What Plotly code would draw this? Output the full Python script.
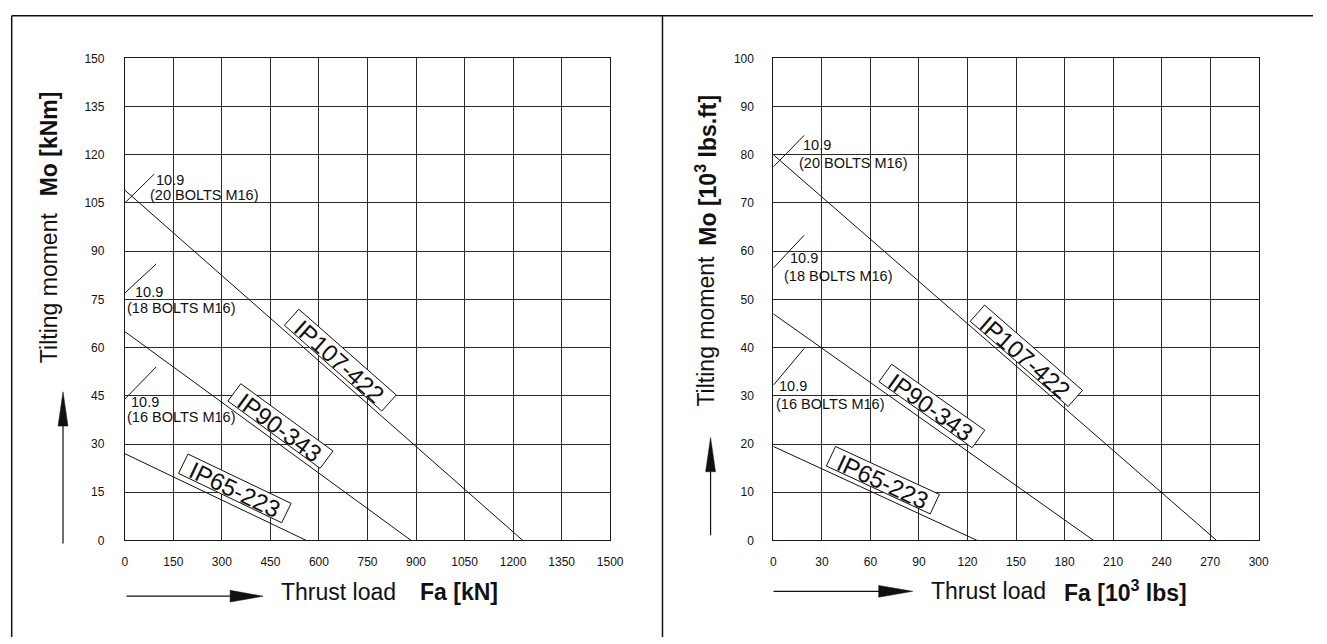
import math
import plotly.graph_objects as go

# The page body has an 8px margin; the figure starts 8px in and runs to the window edge
W, H = 1327, 644
OFF = 8
FW, FH = W - OFF, H - OFF

# ---------------- data ----------------
# metric chart: Fa [kN] vs Mo [kNm]
m_x_ticks = [0, 150, 300, 450, 600, 750, 900, 1050, 1200, 1350, 1500]
m_y_ticks = [0, 15, 30, 45, 60, 75, 90, 105, 120, 135, 150]
m_ip107_fa = [0, 1230]
m_ip107_mo = [109, 0]
m_ip90_fa = [0, 885]
m_ip90_mo = [65, 0]
m_ip65_fa = [0, 561]
m_ip65_mo = [27, 0]
m_b20_fa = [0, 91]
m_b20_mo = [105, 114]
m_b18_fa = [0, 97]
m_b18_mo = [77, 86]
m_b16_fa = [0, 97]
m_b16_mo = [44, 54]

# imperial chart: Fa [10^3 lbs] vs Mo [10^3 lbs.ft]
i_x_ticks = [0, 30, 60, 90, 120, 150, 180, 210, 240, 270, 300]
i_y_ticks = [0, 10, 20, 30, 40, 50, 60, 70, 80, 90, 100]
i_ip107_fa = [0, 274]
i_ip107_mo = [80, 0]
i_ip90_fa = [0, 198]
i_ip90_mo = [47, 0]
i_ip65_fa = [0, 126]
i_ip65_mo = [19.5, 0]
i_b20_fa = [0, 19]
i_b20_mo = [77.5, 84]
i_b18_fa = [0, 19]
i_b18_mo = [56.5, 63.3]
i_b16_fa = [0, 19]
i_b16_mo = [32.2, 39.8]

model_names = ["IP107-422", "IP90-343", "IP65-223"]
bolt_names = ["(20 BOLTS M16)", "(18 BOLTS M16)", "(16 BOLTS M16)"]
grade = "10.9"

# label anchor positions (data coords)
m_model_pos = [(666, 56.1), (481, 35.6), (340, 16.2)]
i_model_pos = [(156.4, 38.3), (98, 27.9), (67.7, 12.5)]
m_grade_pos = [(93, 112.2), (29, 77.3), (15, 43.2)]
m_bolt_pos = [(75, 107.5), (3, 72.3), (3, 38.5)]
i_grade_pos = [(17.9, 82.0), (9.6, 58.5), (2.9, 32.1)]
i_bolt_pos = [(15.5, 78.3), (5.7, 54.8), (0.9, 28.3)]

# ---------------- styling / geometry (window pixels) ----------------
FONT = "Liberation Sans, Arial, Helvetica, sans-serif"
INK = "#111111"
PL = (123.3, 615.0)   # left plot x px
PR = (780.3, 1272.0)  # right plot x px
PT, PB = 52.3, 545.3  # plot top/bottom px
BOX_LEN = [132, 116, 116]
BOX_THK = 22


def fx(p):
    return (p - OFF) / FW


def fy(p):
    return 1 - (p - OFF) / FH


fig = go.Figure()

series_m = [(m_ip107_fa, m_ip107_mo), (m_ip90_fa, m_ip90_mo), (m_ip65_fa, m_ip65_mo),
            (m_b20_fa, m_b20_mo), (m_b18_fa, m_b18_mo), (m_b16_fa, m_b16_mo)]
series_i = [(i_ip107_fa, i_ip107_mo), (i_ip90_fa, i_ip90_mo), (i_ip65_fa, i_ip65_mo),
            (i_b20_fa, i_b20_mo), (i_b18_fa, i_b18_mo), (i_b16_fa, i_b16_mo)]

for xs, ys in series_m:
    fig.add_trace(go.Scatter(x=xs, y=ys, mode="lines", line=dict(color=INK, width=1),
                             xaxis="x", yaxis="y", showlegend=False, hoverinfo="skip"))
for xs, ys in series_i:
    fig.add_trace(go.Scatter(x=xs, y=ys, mode="lines", line=dict(color=INK, width=1),
                             xaxis="x2", yaxis="y2", showlegend=False, hoverinfo="skip"))

axis_common = dict(showgrid=True, gridcolor="#2b2b2b", gridwidth=1, zeroline=False,
                   showline=True, linecolor="#1a1a1a", linewidth=1, mirror=True,
                   ticks="", tickfont=dict(family=FONT, size=12, color=INK),
                   fixedrange=True)

fig.update_layout(
    width=FW, height=FH,
    margin=dict(l=0, r=0, t=0, b=0),
    paper_bgcolor="white", plot_bgcolor="white",
    showlegend=False,
    xaxis=dict(domain=[fx(PL[0]), fx(PL[1])], range=[0, 1500], tickvals=m_x_ticks,
               ticklabelstandoff=10, anchor="y", **axis_common),
    yaxis=dict(domain=[fy(PB), fy(PT)], range=[0, 150], tickvals=m_y_ticks,
               ticklabelstandoff=17, anchor="x", **axis_common),
    xaxis2=dict(domain=[fx(PR[0]), fx(PR[1])], range=[0, 300], tickvals=i_x_ticks,
                ticklabelstandoff=10, anchor="y2", **axis_common),
    yaxis2=dict(domain=[fy(PB), fy(PT)], range=[0, 100], tickvals=i_y_ticks,
                ticklabelstandoff=16, anchor="x2", **axis_common),
)

ann = []
shapes = []


def to_px(x, y, xr, yr, pxr):
    px = pxr[0] + (x - xr[0]) / (xr[1] - xr[0]) * (pxr[1] - pxr[0])
    py = PB - (y - yr[0]) / (yr[1] - yr[0]) * (PB - PT)
    return px, py


def slope_angle(xs, ys, xr, yr, pxr):
    x0, y0 = to_px(xs[0], ys[0], xr, yr, pxr)
    x1, y1 = to_px(xs[1], ys[1], xr, yr, pxr)
    return math.degrees(math.atan2(y1 - y0, x1 - x0))


def path(pts):
    return "M " + " L ".join(f"{fx(a):.6f},{fy(b):.6f}" for a, b in pts) + " Z"


# model label boxes
panels = [(series_m, m_model_pos, (0, 1500), (0, 150), PL, "x", "y"),
          (series_i, i_model_pos, (0, 300), (0, 100), PR, "x2", "y2")]
for series, pos, xr, yr, pxr, xa, ya in panels:
    for k, name in enumerate(model_names):
        xs, ys = series[k]
        a = slope_angle(xs, ys, xr, yr, pxr)
        ar = math.radians(a)
        cx, cy = to_px(pos[k][0], pos[k][1], xr, yr, pxr)
        ux, uy = math.cos(ar), math.sin(ar)
        nx, ny = -math.sin(ar), math.cos(ar)
        hl, ht = BOX_LEN[k] / 2, BOX_THK / 2
        pts = [(cx - hl * ux - ht * nx, cy - hl * uy - ht * ny),
               (cx + hl * ux - ht * nx, cy + hl * uy - ht * ny),
               (cx + hl * ux + ht * nx, cy + hl * uy + ht * ny),
               (cx - hl * ux + ht * nx, cy - hl * uy + ht * ny)]
        shapes.append(dict(type="path", xref="paper", yref="paper", path=path(pts),
                           fillcolor="white", line=dict(color=INK, width=1), layer="above"))
        ann.append(dict(x=pos[k][0], y=pos[k][1], xref=xa, yref=ya,
                        text=name, showarrow=False, textangle=a,
                        xshift=1.6 * nx, yshift=-1.6 * ny,
                        font=dict(family=FONT, size=24, color=INK), borderpad=0))

# bolt labels
for k in range(3):
    for (gx, gy), (bx, by), xr, yr in [(m_grade_pos[k], m_bolt_pos[k], "x", "y"),
                                       (i_grade_pos[k], i_bolt_pos[k], "x2", "y2")]:
        ann.append(dict(x=gx, y=gy, xref=xr, yref=yr, text=grade, showarrow=False,
                        xanchor="left", yanchor="middle", borderpad=0,
                        font=dict(family=FONT, size=14.5, color=INK)))
        ann.append(dict(x=bx, y=by, xref=xr, yref=yr, text=bolt_names[k], showarrow=False,
                        xanchor="left", yanchor="middle", borderpad=0,
                        font=dict(family=FONT, size=14.5, color=INK)))

TF = dict(family=FONT, size=23, color=INK)
ann += [
    dict(x=fx(279), y=fy(598), xref="paper", yref="paper", text="Thrust load",
         showarrow=False, xanchor="left", yanchor="middle", font=TF),
    dict(x=fx(420), y=fy(598), xref="paper", yref="paper", text="<b>Fa [kN]</b>",
         showarrow=False, xanchor="left", yanchor="middle", font=TF),
    dict(x=fx(938), y=fy(597), xref="paper", yref="paper", text="Thrust load",
         showarrow=False, xanchor="left", yanchor="middle", font=TF),
    dict(x=fx(1073), y=fy(597), xref="paper", yref="paper",
         text="<b>Fa [10<sup>3</sup> lbs]</b>",
         showarrow=False, xanchor="left", yanchor="middle", font=TF),
    dict(x=fx(46), y=fy(366), xref="paper", yref="paper", text="Tilting moment",
         showarrow=False, textangle=-90, xanchor="center", yanchor="bottom", font=TF),
    dict(x=fx(46), y=fy(84), xref="paper", yref="paper", text="<b>Mo [kNm]</b>",
         showarrow=False, textangle=-90, xanchor="center", yanchor="top", font=TF),
    dict(x=fx(712), y=fy(410), xref="paper", yref="paper", text="Tilting moment",
         showarrow=False, textangle=-90, xanchor="center", yanchor="bottom", font=TF),
    dict(x=fx(712), y=fy(87), xref="paper", yref="paper",
         text="<b>Mo [10<sup>3</sup> lbs.ft]</b>",
         showarrow=False, textangle=-90, xanchor="center", yanchor="top", font=TF),
]
fig.update_layout(annotations=ann)


def line(x0, y0, x1, y1, w=1.2, c=INK):
    shapes.append(dict(type="line", xref="paper", yref="paper",
                       x0=fx(x0), y0=fy(y0), x1=fx(x1), y1=fy(y1),
                       line=dict(color=c, width=w)))


def tri(pts):
    shapes.append(dict(type="path", xref="paper", yref="paper", path=path(pts),
                       fillcolor=INK, line=dict(color=INK, width=0.5)))


# outer frames (clamped to the drawable area)
line(8.7, 8.7, 1327, 8.7, 1.5)
line(8.7, 8.7, 8.7, 644, 1.5)
line(668, 8.7, 668, 644, 1.5)

# arrows
line(60.7, 548.3, 60.7, 428)
tri([(60.7, 393.3), (55.7, 428.3), (65.7, 428.3)])
line(716.7, 540, 716.7, 475)
tri([(716.7, 440), (711.7, 475), (721.7, 475)])
line(125, 602.3, 231, 602.3)
tri([(263.3, 602.3), (230, 596.3), (230, 608.3)])
line(780.5, 597.3, 888, 597.3)
tri([(921.5, 597.3), (887, 591.3), (887, 603.3)])

fig.update_layout(shapes=shapes)

fig.write_html("out.html", config={"displayModeBar": False})
